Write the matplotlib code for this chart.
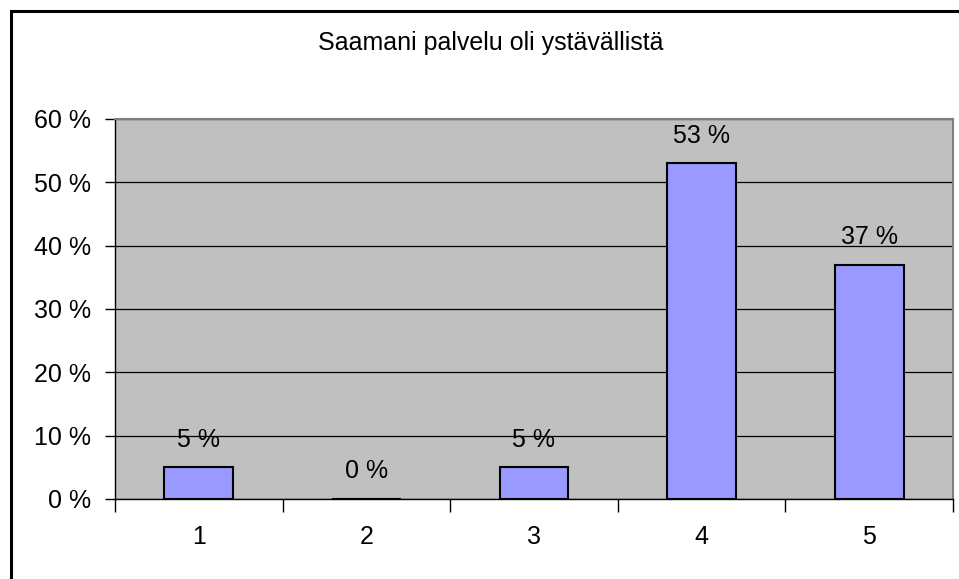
import matplotlib.pyplot as plt
from matplotlib.patches import Rectangle
from matplotlib.ticker import MultipleLocator, FixedLocator

# Survey answers on a 1-5 scale, share of respondents in percent
categories = ['1', '2', '3', '4', '5']
shares = [5, 0, 5, 53, 37]
title = 'Saamani palvelu oli ystävällistä'

plt.rcParams['font.family'] = ['Liberation Sans', 'DejaVu Sans']
fs = 18

fig = plt.figure(figsize=(9.59, 5.79), dpi=100)
ax = fig.add_axes([115 / 959, 80 / 579, 838 / 959, 380 / 579])

# outer chart border (only left and top edges fall inside the image)
fig.patches.append(Rectangle((10.5 / 959, -0.05), 1.2, (579 - 10.5) / 579 + 0.05,
                             transform=fig.transFigure, fill=False,
                             edgecolor='black', linewidth=2.2))

ax.set_facecolor('#c0c0c0')
x = range(len(categories))
bars = ax.bar(x, shares, width=0.41, color='#9999ff', edgecolor='black',
              linewidth=1.5, zorder=3)

for xi, v in zip(x, shares):
    ax.annotate(f'{v} %', (xi, v), xytext=(0, 20), textcoords='offset points',
                ha='center', va='center', fontsize=fs)

ax.set_xlim(-0.5, 4.5)
ax.set_ylim(0, 60)
ax.yaxis.set_major_locator(MultipleLocator(10))
ax.set_yticklabels([f'{int(t)} %' for t in ax.get_yticks()])
ax.set_xticks(list(x))
ax.set_xticklabels(categories)
ax.xaxis.set_minor_locator(FixedLocator([i - 0.5 for i in range(len(categories) + 1)]))
ax.tick_params(axis='x', which='major', length=0, pad=19, labelsize=fs)
ax.tick_params(axis='x', which='minor', length=9, width=1, color='black')
ax.tick_params(axis='y', length=7, width=1, pad=10, labelsize=fs)
ax.grid(axis='y', color='black', linewidth=0.9, zorder=1)
ax.set_axisbelow(True)

for side in ['top', 'right']:
    ax.spines[side].set_color('#808080')
    ax.spines[side].set_linewidth(1.5)
for side in ['left', 'bottom']:
    ax.spines[side].set_color('black')
    ax.spines[side].set_linewidth(1)

fig.text(491 / 959, 1 - 43 / 579, title, ha='center', va='center', fontsize=fs)

fig.savefig('out.png', dpi=100)
